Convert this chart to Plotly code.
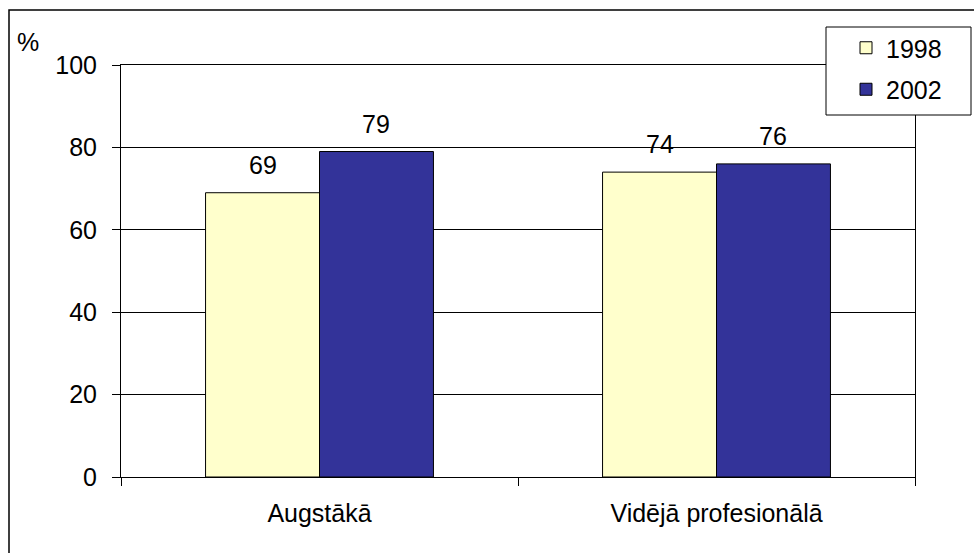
import plotly.graph_objects as go

# Education level categories and share (%) for each survey year
categories = ["Augstākā", "Vidējā profesionālā"]
years = ["1998", "2002"]
values_1998 = [69, 74]
values_2002 = [79, 76]
y_ticks = [0, 20, 40, 60, 80, 100]

FONT = "Liberation Sans, Arial, sans-serif"
FS = 25
W, H = 974, 553
ML, MR, MT, MB = 121, 59, 65, 76
PW, PH = W - ML - MR, H - MT - MB


def px_to_paper_x(px):
    return (px - ML) / PW


def px_to_paper_y(py):
    return 1 - (py - MT) / PH


series = [
    (years[0], values_1998, "#FFFFCC"),
    (years[1], values_2002, "#333399"),
]

fig = go.Figure()
for i, (name, vals, color) in enumerate(series):
    fig.add_trace(go.Bar(
        name=name,
        x=categories,
        y=vals,
        legendgroup=name,
        marker=dict(color=color, line=dict(color="#000000", width=1)),
        hoverinfo="x+y+name",
    ))

# Value labels above each bar
bar_half = PW / len(categories) * (1 - 0.426) / 4
for i, (name, vals, color) in enumerate(series):
    shift = -bar_half if i == 0 else bar_half
    for cat, v in zip(categories, vals):
        fig.add_annotation(
            x=cat, y=v, text=str(v), showarrow=False,
            xshift=shift, yshift=28, yanchor="middle",
            font=dict(family=FONT, size=FS, color="#000000"),
        )

# Unit label in the top-left corner
fig.add_annotation(
    x=px_to_paper_x(28), y=px_to_paper_y(42), xref="paper", yref="paper",
    text="%", showarrow=False, xanchor="center", yanchor="middle",
    font=dict(family=FONT, size=FS, color="#000000"),
)

# Chart frame
fig.add_shape(
    type="rect", xref="paper", yref="paper",
    x0=px_to_paper_x(9), x1=px_to_paper_x(W + 20),
    y0=px_to_paper_y(H + 20), y1=px_to_paper_y(10),
    line=dict(color="#000000", width=1.5), fillcolor="rgba(0,0,0,0)",
    layer="below",
)

# Legend frame (white box covering the plot corner)
fig.add_shape(
    type="rect", xref="paper", yref="paper",
    x0=px_to_paper_x(826), x1=px_to_paper_x(971),
    y0=px_to_paper_y(115), y1=px_to_paper_y(27),
    line=dict(color="#000000", width=1), fillcolor="#FFFFFF",
    layer="above",
)

fig.update_layout(
    width=W, height=H,
    margin=dict(l=ML, r=MR, t=MT, b=MB),
    paper_bgcolor="#FFFFFF",
    plot_bgcolor="#FFFFFF",
    barmode="group",
    bargap=0.426,
    bargroupgap=0,
    font=dict(family=FONT, size=FS, color="#000000"),
    showlegend=True,
    legend=dict(
        x=px_to_paper_x(846), y=px_to_paper_y(25),
        xanchor="left", yanchor="top",
        bgcolor="rgba(0,0,0,0)",
        borderwidth=0,
        font=dict(family=FONT, size=FS, color="#000000"),
        traceorder="grouped",
        tracegroupgap=6,
    ),
    xaxis=dict(
        type="category",
        showline=True, linecolor="#000000", linewidth=1, mirror=True,
        ticks="outside", tickson="boundaries", ticklen=8,
        tickcolor="#000000", tickwidth=1,
        ticklabelstandoff=14,
        showgrid=False,
        tickfont=dict(family=FONT, size=FS, color="#000000"),
    ),
    yaxis=dict(
        range=[0, 100],
        tickvals=y_ticks,
        showline=True, linecolor="#000000", linewidth=1, mirror=True,
        ticks="outside", ticklen=8, tickcolor="#000000", tickwidth=1,
        ticklabelstandoff=10,
        showgrid=True, gridcolor="#000000", gridwidth=1,
        zeroline=False,
        tickfont=dict(family=FONT, size=FS, color="#000000"),
    ),
)

fig.write_html("out.html")
